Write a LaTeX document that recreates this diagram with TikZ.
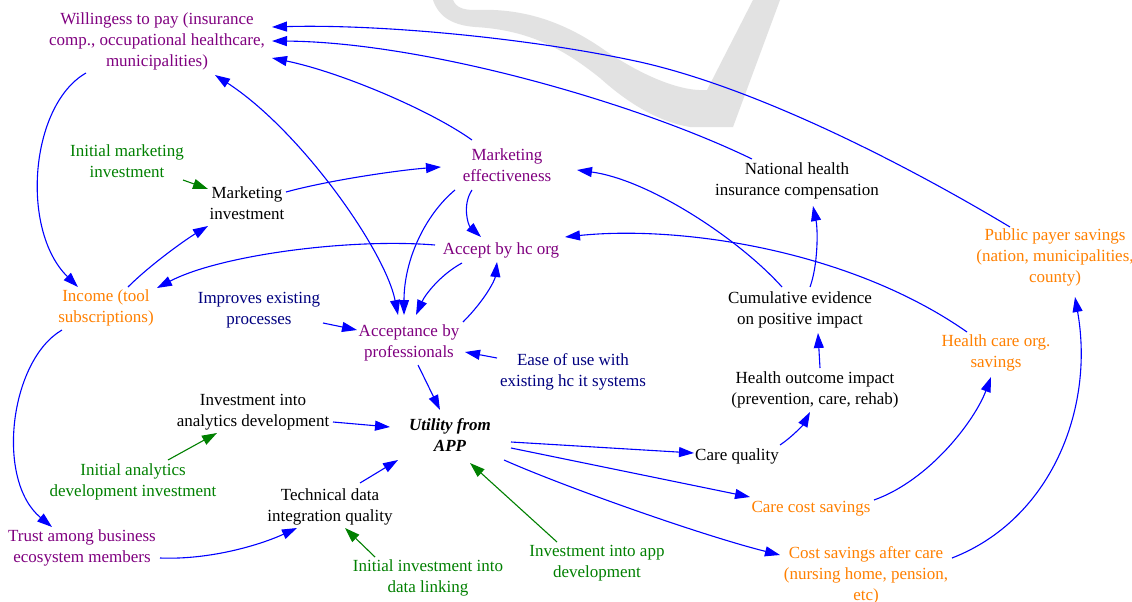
\documentclass[tikz,border=0pt]{standalone}
\usepackage{fontspec}
\setmainfont{Liberation Serif}
\usetikzlibrary{arrows.meta}
\definecolor{cpurple}{RGB}{128,0,128}
\definecolor{corange}{RGB}{255,128,0}
\definecolor{cgreen}{RGB}{0,128,0}
\definecolor{cnavy}{RGB}{0,0,128}
\definecolor{cblue}{RGB}{0,0,255}
\definecolor{wmgray}{RGB}{226,226,226}
\newcommand{\nrel}[3]{([shift={(#2,#3)}]#1.center)}
\begin{document}
\begin{tikzpicture}[x=1pt,y=-1pt,
  lbl/.style={font=\fontsize{17}{21}\selectfont, align=center, inner sep=0pt},
  purp/.style={lbl,text=cpurple},
  orng/.style={lbl,text=corange},
  grn/.style={lbl,text=cgreen},
  nvy/.style={lbl,text=cnavy},
  blk/.style={lbl,text=black},
  link/.style={draw=cblue, line width=1.1pt, -{Triangle[length=15pt,width=10pt]}},
  glink/.style={link, draw=cgreen},
  dlink/.style={draw=cblue, line width=1.1pt, {Triangle[length=15pt,width=10pt]}-{Triangle[length=15pt,width=10pt]}}
]
\useasboundingbox (0,0) rectangle (1132,602);
\fill[white] (0,0) rectangle (1132,602);
% watermark
\fill[wmgray] (433,0) -- (453,0) .. controls (456,7) and (462,10) .. (475,10)
  .. controls (520,8) and (560,20) .. (600,47)
  .. controls (640,75) and (680,92) .. (707,90) -- (753,0) -- (780,0) -- (733,127) -- (690,127)
  .. controls (660,122) and (630,105) .. (600,78)
  .. controls (565,50) and (530,30) .. (475,27)
  .. controls (450,25) and (438,15) .. cycle;

% nodes
\node[purp] (wtp) at (157,41) {Willingess to pay (insurance\\comp., occupational healthcare,\\municipalities)};
\node[grn] (imi) at (127,161) {Initial marketing\\investment};
\node[blk] (minv) at (247,203) {Marketing\\investment};
\node[purp] (me) at (507,165) {Marketing\\effectiveness};
\node[blk] (nhi) at (797,181) {National health\\insurance compensation};
\node[orng] (ppay) at (1055,257) {Public payer savings\\(nation, municipalities,\\county)};
\node[purp] (ahc) at (501,250) {Accept by hc org};
\node[orng] (inc) at (106,308) {Income (tool\\subscriptions)};
\node[nvy] (iep) at (259,310) {Improves existing\\processes};
\node[blk] (cum) at (800,310) {Cumulative evidence\\on positive impact};
\node[orng] (hcs) at (996,353) {Health care org.\\savings};
\node[purp] (acc) at (409,343) {Acceptance by\\professionals};
\node[nvy] (eou) at (573,372) {Ease of use with\\existing hc it systems};
\node[blk] (hoi) at (815,390) {Health outcome impact\\(prevention, care, rehab)};
\node[blk] (iad) at (253,412) {Investment into\\analytics development};
\node[blk,font=\fontsize{17}{21}\selectfont\bfseries\itshape] (uti) at (450,435) {Utility from\\APP};
\node[blk] (cq) at (737,456) {Care quality};
\node[grn] (iadi) at (133,482) {Initial analytics\\development investment};
\node[orng] (ccs) at (811,509) {Care cost savings};
\node[blk] (tdq) at (330,507) {Technical data\\integration quality};
\node[purp] (trust) at (82,548) {Trust among business\\ecosystem members};
\node[orng] (csac) at (866,575) {Cost savings after care\\(nursing home, pension,\\etc)};
\node[grn] (iapp) at (597,563) {Investment into app\\development};
\node[grn] (idl) at (428,578) {Initial investment into\\data linking};

% connectors
\draw[link] \nrel{ppay}{-45}{-30} .. controls (910,167) and (760,89) .. (640,62)
  .. controls (530,38) and (380,24) .. \nrel{wtp}{115}{-14};
\draw[link] \nrel{nhi}{-45}{-22} .. controls (630,100) and (420,42) .. \nrel{wtp}{115}{0};
\draw[link] \nrel{me}{-35}{-25} .. controls (430,110) and (340,72) .. \nrel{wtp}{115}{17};
\draw[link] \nrel{wtp}{-71}{32} .. controls (30,105) and (20,230) .. \nrel{inc}{-28}{-21};
\draw[link] \nrel{inc}{22}{-21} .. controls (150,265) and (185,240) .. \nrel{minv}{-39}{23};
\draw[glink] \nrel{imi}{56}{19} -- \nrel{minv}{-39}{-14};
\draw[link] \nrel{minv}{39}{-11} .. controls (330,180) and (400,170) .. \nrel{me}{-66}{2};
\draw[dlink] \nrel{acc}{-11}{-28} .. controls (385,250) and (300,130) .. \nrel{wtp}{58}{34};
\draw[link] \nrel{me}{-35}{25} .. controls (462,205) and (468,225) .. \nrel{ahc}{-20}{-13};
\draw[link] \nrel{me}{-52}{25} .. controls (425,215) and (404,260) .. \nrel{acc}{-5}{-28};
\draw[link] \nrel{ahc}{-39}{13} .. controls (440,275) and (425,295) .. \nrel{acc}{7}{-28};
\draw[link] \nrel{acc}{54}{-21} .. controls (485,300) and (495,280) .. \nrel{ahc}{-4}{12};
\draw[link] \nrel{ahc}{-66}{-5} .. controls (350,238) and (220,255) .. \nrel{inc}{51}{-20};
\draw[link] \nrel{hcs}{-29}{-21} .. controls (850,250) and (680,225) .. \nrel{ahc}{64}{-13};
\draw[link] \nrel{cum}{-18}{-23} .. controls (740,240) and (650,180) .. \nrel{me}{70}{5};
\draw[link] \nrel{cum}{10}{-23} .. controls (818,265) and (818,230) .. \nrel{nhi}{16}{25};
\draw[link] \nrel{hoi}{5}{-22} -- \nrel{cum}{18}{23};
\draw[link] \nrel{cq}{43}{-11} .. controls (792,437) and (803,425) .. \nrel{hoi}{-5}{22};
\draw[link] \nrel{uti}{61}{7} -- \nrel{cq}{-43}{-3};
\draw[link] \nrel{uti}{61}{13} -- \nrel{ccs}{-61}{-12};
\draw[link] \nrel{uti}{54}{25} .. controls (560,485) and (700,535) .. \nrel{csac}{-86}{-20};
\draw[link] \nrel{ccs}{63}{-9} .. controls (930,480) and (975,420) .. \nrel{hcs}{-5}{24};
\draw[link] \nrel{csac}{86}{-17} .. controls (1050,520) and (1095,410) .. \nrel{ppay}{20}{40};
\draw[glink] \nrel{iapp}{-40}{-21} -- \nrel{uti}{20}{28};
\draw[link] \nrel{iad}{80}{10} -- \nrel{uti}{-60}{-8};
\draw[glink] \nrel{iadi}{35}{-22} -- \nrel{iad}{-36}{21};
\draw[link] \nrel{tdq}{30}{-24} -- \nrel{uti}{-52}{25};
\draw[link] \nrel{trust}{78}{10} .. controls (210,560) and (260,545) .. \nrel{tdq}{-33}{21};
\draw[glink] \nrel{idl}{-53}{-21} -- \nrel{tdq}{15}{21};
\draw[link] \nrel{inc}{-44}{22} .. controls (10,360) and (-5,480) .. \nrel{trust}{-30}{-21};
\draw[link] \nrel{iep}{64}{13} -- \nrel{acc}{-52}{-13};
\draw[link] \nrel{eou}{-76}{-14} -- \nrel{acc}{56}{9};
\draw[link] \nrel{acc}{9}{22} -- \nrel{uti}{-10}{-25};
\end{tikzpicture}
\end{document}
